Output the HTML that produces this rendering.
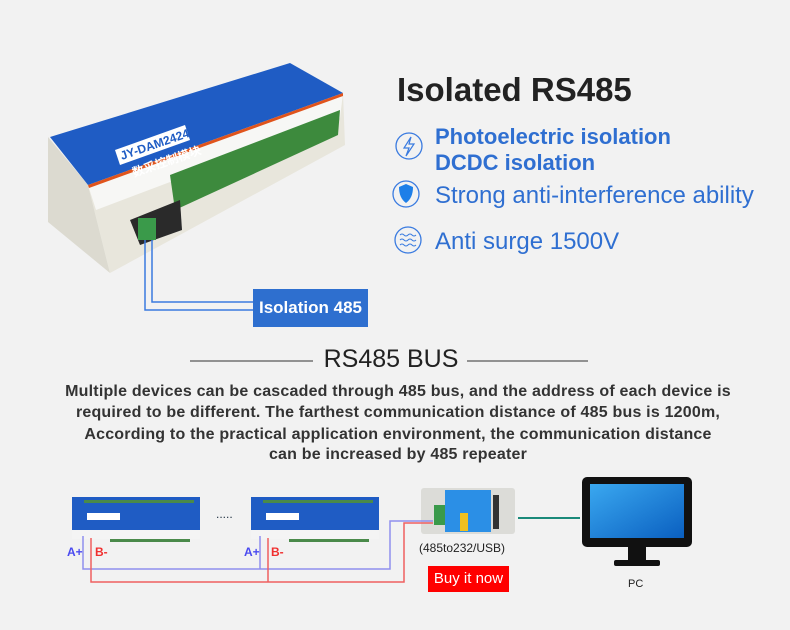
<!DOCTYPE html>
<html><head><meta charset="utf-8"><style>
body{margin:0;width:790px;height:630px;background:#f2f2f2;position:relative;overflow:hidden;font-family:"Liberation Sans","Noto Sans CJK SC",sans-serif}
.a{position:absolute;white-space:nowrap}
.f{color:#2f6fd1;font-size:24px}
.p{left:0;width:796px;text-align:center;color:#333;font-weight:bold;font-size:16px;letter-spacing:0.2px}
</style></head><body>
<svg class="a" style="left:0;top:0" width="790" height="630">
<polygon points="48,137 88,185 110,273 48,222" fill="#dcdad0"/>
<polygon points="88,185 343,93 345,145 110,273" fill="#e8e6dc"/>
<polygon points="88,185 343,93 340,118 96,210" fill="#f7f7f5"/>
<polygon points="50,137 290,63 343,93 88,185" fill="#1f5cc4"/>
<polygon points="88,185 343,93 343,96 89,188" fill="#e0541c"/>
<polygon points="170,175 340,110 338,135 175,210" fill="#3d8a3d"/>
<polygon points="130,220 180,200 182,230 140,245" fill="#2a2a2a"/>
<rect x="138" y="218" width="18" height="22" fill="#3a9a4a"/>
<polygon points="115,150 185,125 190,140 120,165" fill="#fff"/>
<text x="122" y="160" font-size="12" font-weight="bold" fill="#1f5cc4" transform="rotate(-19 122 160)">JY-DAM2424</text>
<text x="134" y="177" font-size="12" font-weight="bold" fill="#fff" transform="rotate(-19 134 177)">数采控制模块</text>
<polyline points="145,240 145,310 253,310" fill="none" stroke="#3a7be0" stroke-width="1.5"/>
<polyline points="152,240 152,302 253,302" fill="none" stroke="#3a7be0" stroke-width="1.5"/>
<circle cx="409" cy="146" r="13" fill="none" stroke="#3a7be0" stroke-width="1.3"/>
<path d="M411,137 L404,148 L409,148 L406,156 L414,144 L409,144 Z" fill="none" stroke="#3a7be0" stroke-width="1.2"/>
<circle cx="406" cy="194" r="13" fill="none" stroke="#3a7be0" stroke-width="1.3"/>
<path d="M399,187 L406,184 L413,187 Q413,198 406,203 Q399,198 399,187Z" fill="#1e7fe8"/>
<circle cx="408" cy="240" r="13" fill="none" stroke="#3a7be0" stroke-width="1.3"/>
<path d="M400,235 q2,-2 4,0 t4,0 t4,0 t4,0 M400,240 q2,-2 4,0 t4,0 t4,0 t4,0 M400,245 q2,-2 4,0 t4,0 t4,0 t4,0" fill="none" stroke="#3a7be0" stroke-width="1"/>
<line x1="190" y1="361" x2="313" y2="361" stroke="#333"/>
<line x1="467" y1="361" x2="588" y2="361" stroke="#333"/>
<g>
<rect x="72" y="497" width="128" height="33" fill="#1f5cc4"/>
<rect x="72" y="530" width="128" height="9" fill="#f4f4f4"/>
<rect x="84" y="500" width="110" height="3" fill="#4a8a4a"/>
<rect x="110" y="539" width="80" height="3" fill="#4a8a4a"/>
<rect x="87" y="513" width="33" height="7" fill="#fff"/>
</g>
<g>
<rect x="251" y="497" width="128" height="33" fill="#1f5cc4"/>
<rect x="251" y="530" width="128" height="9" fill="#f4f4f4"/>
<rect x="263" y="500" width="110" height="3" fill="#4a8a4a"/>
<rect x="289" y="539" width="80" height="3" fill="#4a8a4a"/>
<rect x="266" y="513" width="33" height="7" fill="#fff"/>
</g>
<text x="216" y="518" font-size="12" fill="#234">.....</text>
<rect x="421" y="488" width="94" height="46" rx="3" fill="#dcdcd8"/>
<rect x="445" y="490" width="46" height="42" fill="#2b8fe6"/>
<rect x="460" y="513" width="8" height="18" fill="#f0c020"/>
<rect x="434" y="505" width="11" height="20" fill="#3a9a4a"/>
<rect x="493" y="495" width="6" height="34" fill="#333"/>
<line x1="518" y1="518" x2="580" y2="518" stroke="#1a8a7a" stroke-width="2"/>
<polyline points="83,536 83,569 390,569 390,521 433,521" fill="none" stroke="#8f8fee" stroke-width="1.5"/>
<line x1="260" y1="536" x2="260" y2="569" stroke="#8f8fee" stroke-width="1.5"/>
<polyline points="91,538 91,582 404,582 404,523 433,523" fill="none" stroke="#f06060" stroke-width="1.5"/>
<line x1="268" y1="538" x2="268" y2="582" stroke="#f06060" stroke-width="1.5"/>
<defs><linearGradient id="g" x1="0" y1="0" x2="1" y2="1"><stop offset="0" stop-color="#3aa8f0"/><stop offset="1" stop-color="#0a5fc0"/></linearGradient></defs>
<rect x="582" y="477" width="110" height="70" rx="5" fill="#111"/>
<rect x="590" y="484" width="94" height="54" fill="url(#g)"/>
<rect x="628" y="547" width="18" height="14" fill="#111"/>
<rect x="614" y="560" width="46" height="6" rx="2" fill="#111"/>
</svg>
<div class="a" style="left:253px;top:289px;width:115px;height:38px;background:#2e6fcf;color:#fff;font-size:17px;font-weight:bold;line-height:38px;text-align:center">Isolation 485</div>
<div class="a" style="left:397px;top:71px;font-size:33px;font-weight:bold;color:#222">Isolated RS485</div>
<div class="a f" style="left:435px;top:124px;font-weight:bold;font-size:22px">Photoelectric isolation</div>
<div class="a f" style="left:435px;top:150px;font-weight:bold;font-size:22px">DCDC isolation</div>
<div class="a f" style="left:435px;top:182px">Strong anti-interference ability</div>
<div class="a f" style="left:435px;top:228px">Anti surge 1500V</div>
<div class="a" style="left:0;width:782px;text-align:center;top:345px;font-size:25px;color:#222">RS485 BUS</div>
<div class="a p" style="top:383px">Multiple devices can be cascaded through 485 bus, and the address of each device is</div>
<div class="a p" style="top:404px">required to be different. The farthest communication distance of 485 bus is 1200m,</div>
<div class="a p" style="top:426px">According to the practical application environment, the communication distance</div>
<div class="a p" style="top:446px">can be increased by 485 repeater</div>
<div class="a" style="left:67px;top:545px;font-size:12px;font-weight:bold;color:#4a4af0">A+</div>
<div class="a" style="left:95px;top:545px;font-size:12px;font-weight:bold;color:#f03030">B-</div>
<div class="a" style="left:244px;top:545px;font-size:12px;font-weight:bold;color:#4a4af0">A+</div>
<div class="a" style="left:271px;top:545px;font-size:12px;font-weight:bold;color:#f03030">B-</div>
<div class="a" style="left:419px;top:541px;font-size:12px;color:#222">(485to232/USB)</div>
<div class="a" style="left:428px;top:566px;width:81px;height:26px;background:#f00;color:#fff;font-size:15px;line-height:26px;text-align:center">Buy it now</div>
<div class="a" style="left:628px;top:578px;font-size:11px;color:#222">PC</div>
</body></html>
